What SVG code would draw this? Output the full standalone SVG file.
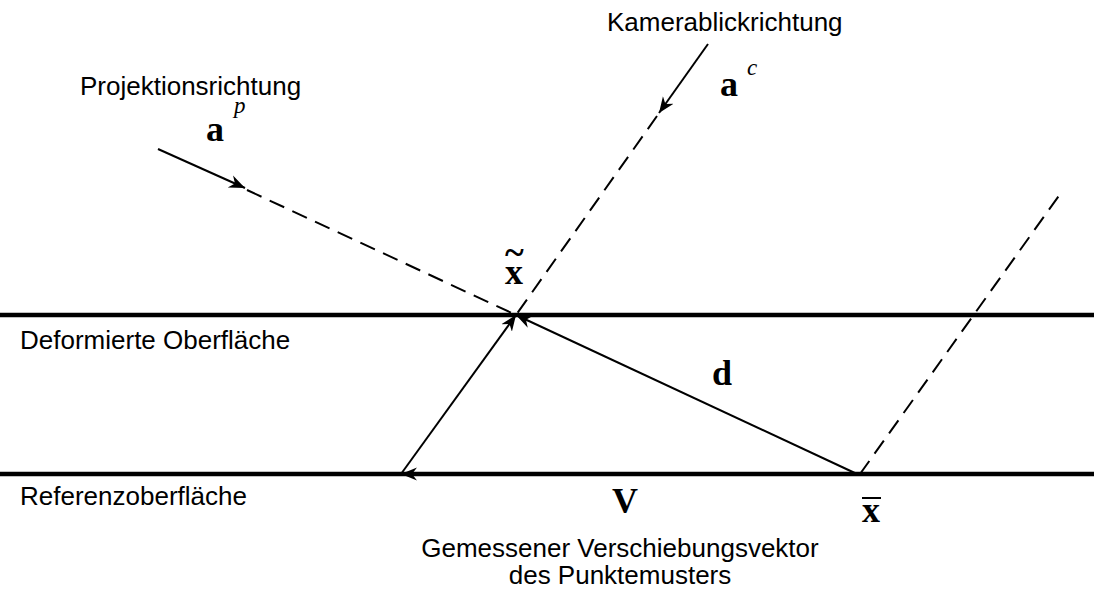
<svg xmlns="http://www.w3.org/2000/svg" width="1094" height="591" viewBox="0 0 1094 591">
<style>
.lbl{font-family:"Liberation Sans",Arial,sans-serif;font-size:26px;fill:#000}
.math{font-family:"Liberation Serif","Times New Roman",serif;font-weight:bold;font-size:36px;fill:#000}
.sup{font-family:"Liberation Serif","Times New Roman",serif;font-style:italic;font-size:23px;fill:#000}
.surf{stroke:#000;stroke-width:4.5;fill:none}
.ln{stroke:#000;stroke-width:2;fill:none}
.dash{stroke:#000;stroke-width:2;fill:none;stroke-dasharray:16 9}
</style>
<defs>
<marker id="ah" viewBox="-16 -8 18 16" refX="0" refY="0" markerWidth="18" markerHeight="16" markerUnits="userSpaceOnUse" orient="auto">
<path d="M0,0 L-16,-6.5 L-11,0 L-16,6.5 Z" fill="#000"/>
</marker>
</defs>
<rect width="1094" height="591" fill="#fff"/>
<g id="surfaces">
<line class="surf" x1="0" y1="315" x2="1094" y2="315"/>
<line class="surf" x1="0" y1="474" x2="1094" y2="474"/>
</g>
<g id="connectors">
<line class="ln" x1="158" y1="149" x2="245" y2="188" marker-end="url(#ah)"/>
<line class="dash" x1="247" y1="190" x2="516" y2="315"/>
<line class="ln" x1="708" y1="44" x2="659" y2="113" marker-end="url(#ah)"/>
<line class="dash" x1="657" y1="116" x2="516" y2="315"/>
<line class="ln" x1="857" y1="474" x2="516" y2="315" marker-end="url(#ah)"/>
<line class="ln" x1="401" y1="474" x2="516" y2="315" marker-end="url(#ah)"/>
<line class="ln" x1="857" y1="474" x2="401" y2="474" marker-end="url(#ah)"/>
<line class="dash" x1="860" y1="474" x2="1063" y2="190"/>
</g>
<g id="label-kamera"><text class="lbl" x="607" y="31">Kamerablickrichtung</text></g>
<g id="label-projektion"><text class="lbl" x="80" y="95">Projektionsrichtung</text></g>
<g id="label-deformiert"><text class="lbl" x="20" y="349">Deformierte Oberfläche</text></g>
<g id="label-referenz"><text class="lbl" x="20" y="505">Referenzoberfläche</text></g>
<g id="label-gemessen"><text class="lbl" x="620" y="557" text-anchor="middle">Gemessener Verschiebungsvektor</text><text class="lbl" x="620" y="584" text-anchor="middle">des Punktemusters</text></g>
<g id="sym-ap"><text class="math" x="206" y="141">a</text><text class="sup" x="234" y="113">p</text></g>
<g id="sym-ac"><text class="math" x="720" y="96">a</text><text class="sup" x="747" y="75">c</text></g>
<g id="sym-xt"><text class="math" x="505" y="284">x</text><text class="math" x="505" y="264" font-size="30">~</text></g>
<g id="sym-d"><text class="math" x="712" y="385">d</text></g>
<g id="sym-V"><text class="math" x="612" y="513">V</text></g>
<g id="sym-xb"><text class="math" x="862" y="522">x</text><line x1="862" y1="498" x2="881" y2="498" stroke="#000" stroke-width="2"/></g>
</svg>
